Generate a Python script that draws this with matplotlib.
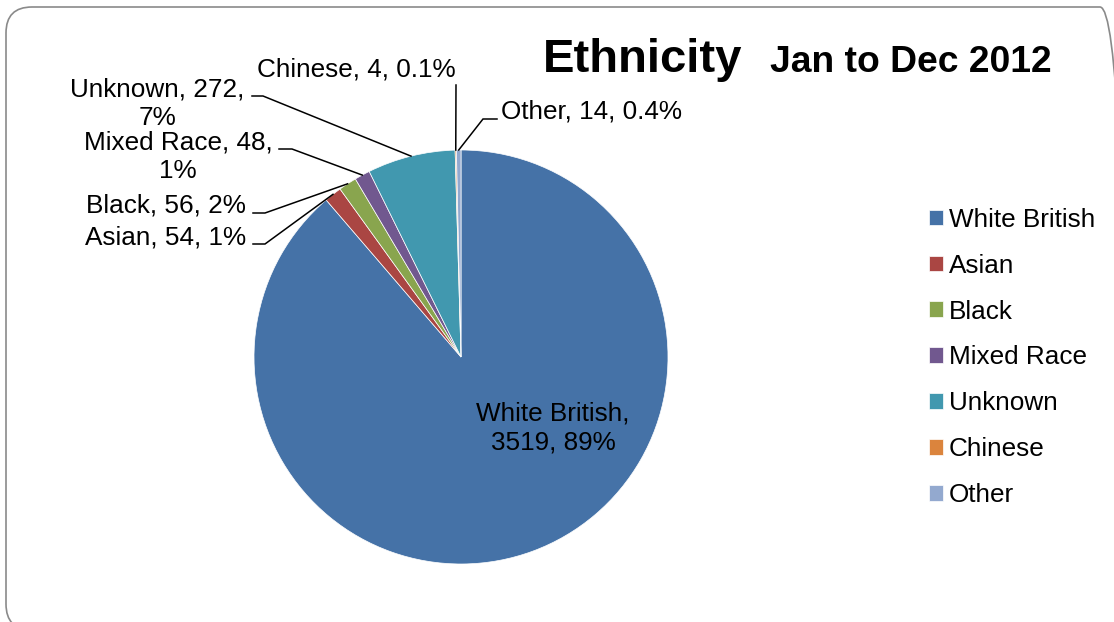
import numpy as np
import matplotlib
matplotlib.use("Agg")
import matplotlib.pyplot as plt
from matplotlib.patches import FancyBboxPatch
from matplotlib.transforms import IdentityTransform

plt.rcParams["font.family"] = ["Liberation Sans", "DejaVu Sans"]

categories = ["White British", "Asian", "Black", "Mixed Race", "Unknown", "Chinese", "Other"]
counts = [3519, 54, 56, 48, 272, 4, 14]
percent_labels = ["89%", "1%", "2%", "1%", "7%", "0.1%", "0.4%"]
colors = ["#4572A7", "#AA4643", "#89A54E", "#71588F", "#4198AF", "#DB843D", "#93A9CF"]

W, H = 1114, 622
fig = plt.figure(figsize=(W / 100, H / 100), dpi=100)

# rounded chart-area frame (display pixels)
frame = FancyBboxPatch((6, H - 630), 1120, 623,
                       boxstyle="round,pad=0,rounding_size=26",
                       transform=IdentityTransform(), facecolor="none",
                       edgecolor="#8a8a8a", linewidth=1.2)
fig.patches.append(frame)

# pie centre and radius in pixels
cx, cy, r = 461, 357, 207
ax = fig.add_axes([(cx - r) / W, (H - cy - r) / H, 2 * r / W, 2 * r / H])
wedges, _ = ax.pie(counts, colors=colors, startangle=90, counterclock=False,
                   wedgeprops=dict(edgecolor="white", linewidth=0.5))
ax.set_xlim(-1, 1)
ax.set_ylim(-1, 1)
ax.set_aspect("equal")


def at(px, py):
    """pixel position (top-left origin) -> pie data coordinates"""
    return (px - cx) / r, (cy - py) / r


def rim(w):
    a = np.deg2rad((w.theta1 + w.theta2) / 2)
    return np.cos(a), np.sin(a)


FS = 18.8
LS = 1.25
label_text = {c: f"{c}, {v}, {p}" for c, v, p in zip(categories, counts, percent_labels)}

# White British inside the slice
ax.text(*at(553, 428), f"White British,\n{counts[0]}, {percent_labels[0]}",
        ha="center", va="center", fontsize=FS, linespacing=LS)

# outside labels: text position, alignment, text and leader path
outside = {
    "Asian": dict(pos=(246, 238), ha="right", text=label_text["Asian"],
                  path=[(253, 244), (265, 244)]),
    "Black": dict(pos=(246, 205), ha="right", text=label_text["Black"],
                  path=[(253, 213), (265, 213)]),
    "Mixed Race": dict(pos=(178, 157), ha="center",
                       text=f"Mixed Race, {counts[3]},\n{percent_labels[3]}",
                       path=[(279, 149), (292, 149)]),
    "Unknown": dict(pos=(157, 104), ha="center",
                    text=f"Unknown, {counts[4]},\n{percent_labels[4]}",
                    path=[(252, 96), (263, 96)]),
    "Chinese": dict(pos=(356, 70), ha="center", text=label_text["Chinese"],
                    path=[(456, 85)]),
    "Other": dict(pos=(501, 111), ha="left", text=label_text["Other"],
                  path=[(497, 119), (483, 119)]),
}

for name, spec in outside.items():
    w = wedges[categories.index(name)]
    ax.text(*at(*spec["pos"]), spec["text"], ha=spec["ha"], va="center",
            fontsize=FS, linespacing=LS, multialignment="center")
    pts = [at(*p) for p in spec["path"]] + [rim(w)]
    xs, ys = zip(*pts)
    ax.plot(xs, ys, color="black", linewidth=1.1, clip_on=False,
            solid_joinstyle="miter")

# title
fig.text(543 / W, 1 - 72 / H, "Ethnicity", fontsize=34, fontweight="bold",
         va="baseline", ha="left")
fig.text(770 / W, 1 - 72 / H, "Jan to Dec 2012", fontsize=26.8, fontweight="bold",
         va="baseline", ha="left")

# legend
fig.legend(wedges, categories, loc="center left",
           bbox_to_anchor=(929 / W, 1 - 357.5 / H), frameon=False,
           fontsize=FS, handlelength=0.55, handleheight=0.55,
           handletextpad=0.2, labelspacing=0.84, borderpad=0,
           borderaxespad=0)

fig.savefig("out.png", dpi=100)
